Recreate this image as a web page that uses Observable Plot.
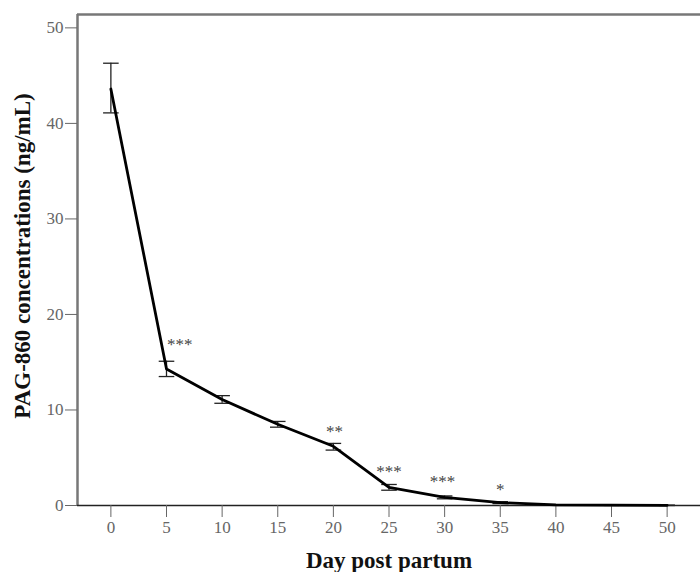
<!DOCTYPE html>
<html><head><meta charset="utf-8">
<script src="https://cdn.jsdelivr.net/npm/d3@7"></script>
<script src="https://cdn.jsdelivr.net/npm/@observablehq/plot@0.6"></script>
<style>body{margin:0;background:#fff;} svg{display:block;}</style>
</head><body><div id="chart"></div>
<script>
const days = [0, 5, 10, 15, 20, 25, 30, 35, 40, 45, 50];
const means = [43.6, 14.3, 11.1, 8.5, 6.2, 1.9, 0.85, 0.3, 0.06, 0.03, 0.02];
const lows  = [41.1, 13.5, 10.7, 8.2, 5.8, 1.6, 0.7, 0.2, 0.03, 0.01, 0.0];
const highs = [46.3, 15.1, 11.5, 8.8, 6.5, 2.2, 1.0, 0.4, 0.09, 0.05, 0.04];
const sigDays = [5, 20, 25, 30, 35];
const sigLabels = ["***", "**", "***", "***", "*"];
const sigY = [17.0, 7.8, 3.7, 2.6, 1.8];
const sigX = [6.2, 20.1, 25.0, 29.8, 35.0];
const xTicks = [0, 5, 10, 15, 20, 25, 30, 35, 40, 45, 50];
const yTicks = [0, 10, 20, 30, 40, 50];

const data = days.map((d, i) => ({day: d, mean: means[i], lo: lows[i], hi: highs[i]}));
const sig = sigDays.map((d, i) => ({x: sigX[i], y: sigY[i], label: sigLabels[i]}));
const capHalf = 0.7;

const chart = Plot.plot({
  width: 700, height: 572,
  marginLeft: 77, marginRight: 0, marginTop: 14, marginBottom: 67,
  style: {fontFamily: "'Liberation Serif', 'Times New Roman', serif", background: "#fff"},
  x: {domain: [-3, 53]},
  y: {domain: [0, 51.4]},
  marks: [
    Plot.ruleX([-3], {stroke: "#777", strokeWidth: 2.5}),
    Plot.ruleY([51.4], {stroke: "#777", strokeWidth: 2.5}),
    Plot.ruleY([0], {stroke: "#222", strokeWidth: 1.5}),
    Plot.axisX({ticks: xTicks, tickSize: 12, tickPadding: 3, fontSize: 17, color: "#666", label: null, tickFormat: d => String(d)}),
    Plot.axisY({ticks: yTicks, tickSize: 12, tickPadding: 2, fontSize: 17, color: "#666", label: null}),
    Plot.ruleX(data, {x: "day", y1: "lo", y2: "hi", stroke: "#222", strokeWidth: 1.3}),
    Plot.link(data, {x1: d => d.day - capHalf, x2: d => d.day + capHalf, y1: "hi", y2: "hi", stroke: "#222", strokeWidth: 1.3}),
    Plot.link(data, {x1: d => d.day - capHalf, x2: d => d.day + capHalf, y1: "lo", y2: "lo", stroke: "#222", strokeWidth: 1.3}),
    Plot.line(data, {x: "day", y: "mean", stroke: "#000", strokeWidth: 2.8}),
    Plot.text(sig, {x: "x", y: "y", text: "label", fontSize: 17, dy: 1, fill: "#444"}),
    Plot.text(["Day post partum"], {frameAnchor: "bottom", dy: 62, fontSize: 23, fontWeight: "bold", fill: "#111"}),
    Plot.text(["PAG-860 concentrations (ng/mL)"], {frameAnchor: "left", textAnchor: "middle", dx: -55, dy: -4, rotate: -90, fontSize: 23, letterSpacing: 0.5, fontWeight: "bold", fill: "#111"})
  ]
});
document.getElementById("chart").append(chart);
</script>
</body></html>
